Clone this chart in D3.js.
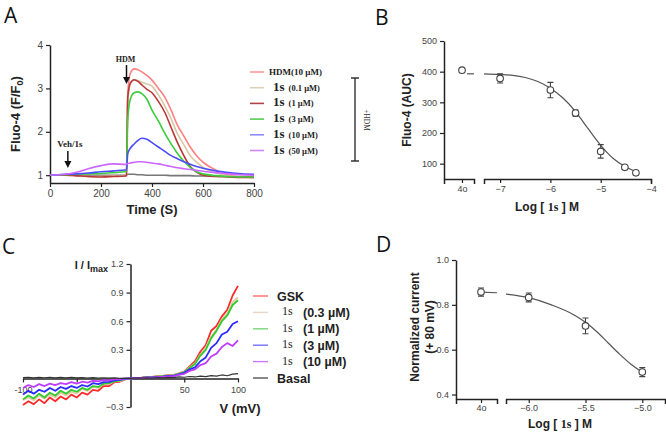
<!DOCTYPE html>
<html><head><meta charset="utf-8">
<script src="https://cdn.jsdelivr.net/npm/d3@7"></script>
<style>
body{margin:0;background:#fff}
svg{display:block}
text{font-family:"Liberation Sans",Arial,sans-serif}
.serif{font-family:"Liberation Serif","Times New Roman",serif}
</style></head><body>
<svg id="c" width="666" height="435"></svg>
<script>
// ---------- Panel A data ----------
const timesA = [0,60,100,150,200,250,295,300,305,315,330,345,360,380,400,425,450,475,500,525,550,575,600,650,700,750,800];
const vehA  = [1.0,1.0,1.0,1.0,1.0,1.0,1.0,1.0,1.02,1.02,1.02,1.01,1.01,1.0,1.0,1.0,1.0,0.99,0.99,0.99,0.99,0.98,0.98,0.98,0.97,0.97,0.97];
const hdmA  = [1.0,1.0,0.99,0.97,0.97,0.98,0.99,1.0,2.9,3.35,3.45,3.43,3.38,3.3,3.19,3.0,2.8,2.5,2.15,1.9,1.65,1.45,1.3,1.12,1.0,0.96,0.95];
const c01A  = [1.0,1.0,0.99,0.97,0.97,0.98,0.99,1.0,2.7,3.1,3.2,3.18,3.14,3.1,3.05,2.85,2.6,2.3,1.95,1.7,1.45,1.3,1.18,1.05,0.98,0.96,0.95];
const c1A   = [1.0,1.0,0.99,0.97,0.96,0.97,0.98,0.99,2.8,3.12,3.2,3.16,3.08,2.98,2.9,2.7,2.45,2.1,1.75,1.45,1.2,1.07,1.0,0.97,0.96,0.95,0.95];
const c3A   = [1.0,1.01,1.02,1.03,1.04,1.06,1.08,1.09,2.3,2.75,2.9,2.92,2.88,2.75,2.5,2.25,1.97,1.72,1.5,1.32,1.18,1.08,1.03,0.99,0.97,0.96,0.96];
const c10A  = [1.0,1.02,1.03,1.05,1.08,1.1,1.12,1.12,1.5,1.62,1.72,1.8,1.85,1.83,1.75,1.65,1.55,1.45,1.38,1.31,1.25,1.2,1.16,1.1,1.06,1.03,1.02];
const c50A  = [1.0,1.02,1.06,1.15,1.22,1.26,1.25,1.25,1.27,1.28,1.3,1.31,1.31,1.3,1.28,1.26,1.23,1.2,1.17,1.15,1.13,1.11,1.09,1.06,1.03,1.01,1.0];
const colorsA = ["#777","#ff8080","#d9c7a5","#b83838","#3ccc3c","#4c4cff","#cc66ff"];
const legendA = [["HDM(10 µM)",""],["1s","(0.1 µM)"],["1s","(1 µM)"],["1s","(3 µM)"],["1s","(10 µM)"],["1s","(50 µM)"]];
const legendAcolors = ["#ff9a9a","#dcd2b4","#b04444","#55cc55","#8c8cff","#cc88ff"];
const ticksAx = [0,200,400,600,800];
const ticksAy = [1,2,3,4];

// ---------- Panel B data ----------
const logB = [-7,-6,-5.5,-5,-4.52,-4.3];
const aucB = [378,340,265,140,88,70];
const errB = [15,25,10,22,6,4];
const ctrlB = 405, ctrlErrB = 4;
const curveBx = [-7.32,-7,-6.75,-6.5,-6.25,-6,-5.75,-5.5,-5.25,-5,-4.75,-4.5,-4.3];
const curveBy = [393,391,388,381,368,346,314,270,214,160,117,89,74];
const ticksBx = [-7,-6,-5,-4];
const ticksBy = [100,200,300,400,500];

// ---------- Panel C data ----------
const voltC = d3.range(-100,101,5);
const gskC  = [-0.28,-0.24,-0.27,-0.22,-0.26,-0.2,-0.24,-0.19,-0.22,-0.17,-0.2,-0.15,-0.17,-0.12,-0.13,-0.08,-0.08,-0.04,-0.035,-0.01,0,0.006,0.008,0.014,0.016,0.024,0.026,0.033,0.034,0.052,0.072,0.125,0.18,0.28,0.35,0.5,0.55,0.65,0.72,0.87,0.97];
const c03C  = [-0.23,-0.2,-0.23,-0.18,-0.21,-0.17,-0.2,-0.15,-0.18,-0.14,-0.16,-0.11,-0.13,-0.09,-0.1,-0.06,-0.06,-0.03,-0.028,-0.01,0,0.005,0.007,0.012,0.014,0.021,0.024,0.031,0.032,0.049,0.068,0.115,0.16,0.25,0.32,0.44,0.51,0.62,0.68,0.8,0.85];
const c1C   = [-0.22,-0.18,-0.21,-0.16,-0.2,-0.15,-0.18,-0.13,-0.16,-0.12,-0.14,-0.1,-0.12,-0.08,-0.09,-0.055,-0.05,-0.03,-0.022,-0.008,0,0.005,0.006,0.011,0.013,0.019,0.023,0.029,0.031,0.047,0.065,0.11,0.15,0.24,0.3,0.42,0.5,0.6,0.66,0.77,0.82];
const c3C   = [-0.17,-0.13,-0.16,-0.12,-0.14,-0.1,-0.13,-0.09,-0.11,-0.08,-0.1,-0.07,-0.085,-0.05,-0.06,-0.04,-0.036,-0.02,-0.016,-0.005,0,0.004,0.005,0.01,0.011,0.016,0.019,0.025,0.027,0.042,0.058,0.095,0.115,0.18,0.22,0.32,0.37,0.46,0.49,0.57,0.6];
const c10C  = [-0.1,-0.07,-0.09,-0.06,-0.08,-0.055,-0.07,-0.05,-0.06,-0.04,-0.055,-0.035,-0.045,-0.025,-0.03,-0.018,-0.02,-0.01,-0.008,-0.003,0,0.003,0.004,0.007,0.009,0.012,0.016,0.02,0.023,0.036,0.048,0.078,0.095,0.14,0.16,0.23,0.26,0.33,0.37,0.34,0.4];
const basC  = [0.008,0.012,0.006,0.011,0.007,0.012,0.006,0.01,0.006,0.01,0.005,0.009,0.004,0.008,0.004,0.006,0.002,0.005,0.001,0.003,0,0.004,0.002,0.006,0.003,0.008,0.005,0.011,0.008,0.015,0.012,0.02,0.015,0.024,0.018,0.03,0.024,0.036,0.028,0.045,0.05];
const colorsC = ["#ff2a2a","#e6c9a2","#2ecc2e","#2b2bff","#c03cff","#333"];
const legendC = [["GSK",""],["1s","(0.3 µM)"],["1s","(1 µM)"],["1s","(3 µM)"],["1s","(10 µM)"],["Basal",""]];
const legendCcolors = ["#ff6a6a","#e4d6c0","#7ad67a","#7070ff","#cc77ff","#555"];
const ticksCy = [-0.3,0.3,0.6,0.9,1.2];
const ticksCx = [-100,-50,50,100];

// ---------- Panel D data ----------
const logD = [-6.0,-5.5,-5.0];
const curD = [0.833,0.706,0.50];
const errD = [0.02,0.035,0.02];
const ctrlD = 0.857, ctrlErrD = 0.018;
const curveDx = [-6.2,-6.0,-5.8,-5.6,-5.5,-5.4,-5.3,-5.2,-5.1,-5.0];
const curveDy = [0.848,0.832,0.80,0.755,0.722,0.68,0.63,0.58,0.535,0.50];
const ticksDx = [-6.0,-5.5,-5.0];
const ticksDy = [0.4,0.6,0.8,1.0];

const svg = d3.select("#c");
svg.append("rect").attr("width",666).attr("height",435).attr("fill","#fff");

function styleAxis(g, fs){
  g.selectAll(".domain").attr("stroke","#222").attr("stroke-width",1.5);
  g.selectAll(".tick line").attr("stroke","#222").attr("stroke-width",1.2);
  g.selectAll(".tick text").attr("font-size",fs).attr("fill","#444");
}
function letter(t,x,y){
  svg.append("text").attr("x",x).attr("y",y).attr("font-size",21)
    .style("font-family","'Open Sans','Noto Sans',sans-serif").attr("fill","#111").text(t);
}

// ================= Panel A =================
{
  const x = d3.scaleLinear([0,800],[50,254]);
  const y = d3.scaleLinear([0.82,4],[183,45]);
  const g = svg.append("g");
  const gx = g.append("g").attr("transform","translate(0,183)")
    .call(d3.axisBottom(x).tickValues(ticksAx).tickSize(4).tickSizeOuter(0));
  styleAxis(gx,10);
  const gy = g.append("g").attr("transform","translate(50,0)")
    .call(d3.axisLeft(y).tickValues(ticksAy).tickFormat(d3.format("d")).tickSize(4).tickSizeOuter(0));
  styleAxis(gy,10);
  const all = [vehA,hdmA,c01A,c1A,c3A,c10A,c50A];
  const line = d3.line().x((d,i)=>x(timesA[i])).y(d=>y(d)).curve(d3.curveMonotoneX);
  all.forEach((s,k)=>{
    g.append("path").attr("d",line(s)).attr("fill","none")
      .attr("stroke",colorsA[k]).attr("stroke-width",1.6);
  });
  svg.append("text").attr("transform","translate(20,114) rotate(-90)")
    .attr("text-anchor","middle").attr("font-size",13).attr("font-weight","bold").attr("fill","#222")
    .html('Fluo-4 (F/F<tspan font-size="9" dy="3">0</tspan><tspan dy="-3">)</tspan>');
  svg.append("text").attr("x",152).attr("y",214).attr("text-anchor","middle")
    .attr("font-size",13).attr("font-weight","bold").attr("fill","#222").text("Time (S)");
  function arrow(xp,y1,y2){
    g.append("line").attr("x1",xp).attr("x2",xp).attr("y1",y1).attr("y2",y2-5).attr("stroke","#111").attr("stroke-width",1.5);
    g.append("path").attr("d",`M${xp-3.5},${y2-7}L${xp+3.5},${y2-7}L${xp},${y2}Z`).attr("fill","#111");
  }
  arrow(x(70),151,168);
  arrow(x(300),65,84);
  g.append("text").attr("class","serif").attr("x",x(70)+2).attr("y",147).attr("text-anchor","middle")
    .attr("font-size",9).attr("font-weight","bold").attr("fill","#222").text("Veh/1s");
  g.append("text").attr("class","serif").attr("x",x(300)-1).attr("y",62).attr("text-anchor","middle")
    .attr("font-size",8).attr("font-weight","bold").attr("fill","#222").text("HDM");
  legendA.forEach((l,i)=>{
    const yy = 72 + i*15.7;
    g.append("line").attr("x1",250).attr("x2",264).attr("y1",yy).attr("y2",yy)
      .attr("stroke",legendAcolors[i]).attr("stroke-width",1.6);
    const t = g.append("text").attr("class","serif").attr("y",yy+3).attr("font-weight","bold").attr("fill","#222");
    if(l[1]===""){
      t.attr("x",269).attr("font-size",9).text(l[0]);
    } else {
      t.attr("x",273);
      t.append("tspan").attr("font-size",13).text(l[0]);
      t.append("tspan").attr("font-size",8.5).attr("dx",4).text(l[1]);
    }
  });
  g.append("path").attr("d","M351,78H359M355,78V161M351,161H359").attr("stroke","#333").attr("stroke-width",1.4).attr("fill","none");
  g.append("text").attr("class","serif").attr("transform","translate(364,120) rotate(90)")
    .attr("text-anchor","middle").attr("font-size",7.5).attr("fill","#333").text("+HDM");
  letter("A",4,23);
}

// ================= Panel B =================
{
  const y = d3.scaleLinear([50,500],[179,41]);
  const x0 = d3.scalePoint(["4o"],[444,474]).align(0.6);
  const x = d3.scaleLinear([-7.32,-4],[484,651]);
  const g = svg.append("g");
  const gy = g.append("g").attr("transform","translate(444,0)")
    .call(d3.axisLeft(y).tickValues(ticksBy).tickSize(4).tickSizeOuter(0));
  styleAxis(gy,9);
  const gx0 = g.append("g").attr("transform","translate(0,179)")
    .call(d3.axisBottom(x0).tickSize(4).tickSizeOuter(5));
  styleAxis(gx0,9);
  const gx = g.append("g").attr("transform","translate(0,179)")
    .call(d3.axisBottom(x).tickValues(ticksBx).tickFormat(d3.format("d")).tickSize(4).tickSizeOuter(5));
  styleAxis(gx,9);
  const line = d3.line().x((d,i)=>x(curveBx[i])).y(d=>y(d)).curve(d3.curveMonotoneX);
  g.append("path").attr("d",line(curveBy)).attr("fill","none").attr("stroke","#555").attr("stroke-width",1.2);
  g.append("line").attr("x1",x0("4o")+5).attr("x2",474).attr("y1",y(curveBy[0])).attr("y2",y(curveBy[0])).attr("stroke","#555").attr("stroke-width",1.2);
  const pts = logB.map((v,i)=>({x:x(v),v:aucB[i],e:errB[i]}));
  pts.push({x:x0("4o"),v:ctrlB,e:ctrlErrB});
  pts.forEach(p=>{
    g.append("path").attr("d",`M${p.x},${y(p.v+p.e)}V${y(p.v-p.e)}M${p.x-3},${y(p.v+p.e)}H${p.x+3}M${p.x-3},${y(p.v-p.e)}H${p.x+3}`)
      .attr("stroke","#444").attr("stroke-width",1.1).attr("fill","none");
    g.append("circle").attr("cx",p.x).attr("cy",y(p.v)).attr("r",3.3).attr("fill","#fff").attr("stroke","#444").attr("stroke-width",1.1);
  });
  svg.append("text").attr("transform","translate(411,110) rotate(-90)").attr("text-anchor","middle")
    .attr("font-size",12).attr("font-weight","bold").attr("fill","#222").text("Fluo-4 (AUC)");
  const t = svg.append("text").attr("x",547).attr("y",211).attr("text-anchor","middle")
    .attr("font-size",12).attr("font-weight","bold").attr("fill","#222");
  t.append("tspan").text("Log [ ");
  t.append("tspan").attr("class","serif").attr("font-size",12).text("1s");
  t.append("tspan").text(" ] M");
  letter("B",375,25);
}

// ================= Panel C =================
{
  const x = d3.scaleLinear([-100,100],[23,238]);
  const y = d3.scaleLinear([-0.3,1.2],[407,264]);
  const g = svg.append("g");
  const gy = g.append("g").attr("transform",`translate(${x(0)},0)`)
    .call(d3.axisLeft(y).tickValues(ticksCy).tickFormat(d3.format(".1f")).tickSize(4).tickSizeOuter(0));
  styleAxis(gy,9);
  const gx = g.append("g").attr("transform",`translate(0,${y(0)})`)
    .call(d3.axisBottom(x).tickValues(ticksCx).tickFormat(d=>d===-50?"":d).tickSize(4).tickSizeOuter(0));
  styleAxis(gx,9);
  gx.selectAll(".tick text").attr("dy","0.9em");
  const all = [gskC,c03C,c1C,c3C,c10C,basC];
  const line = d3.line().x((d,i)=>x(voltC[i])).y(d=>y(d));
  all.forEach((s,k)=>{
    g.append("path").attr("d",line(s)).attr("fill","none").attr("stroke",colorsC[k])
      .attr("stroke-width",k===5?1.2:1.8).attr("stroke-linejoin","round");
  });
  svg.append("text").attr("x",108).attr("y",269).attr("text-anchor","end")
    .attr("font-size",11).attr("font-weight","bold").attr("fill","#222")
    .html('I / I<tspan font-size="9" dy="3">max</tspan>');
  svg.append("text").attr("x",240).attr("y",413).attr("text-anchor","middle")
    .attr("font-size",13).attr("font-weight","bold").attr("fill","#222").text("V (mV)");
  legendC.forEach((l,i)=>{
    const yy = 296 + i*16.4;
    g.append("line").attr("x1",253).attr("x2",268).attr("y1",yy).attr("y2",yy)
      .attr("stroke",legendCcolors[i]).attr("stroke-width",1.4);
    if(l[1]===""){
      g.append("text").attr("x",277).attr("y",yy+4.5).attr("font-size",12.5).attr("font-weight","bold").attr("fill","#222").text(l[0]);
    } else {
      g.append("text").attr("class","serif").attr("x",282).attr("y",yy+3).attr("font-size",12).attr("fill","#222").text(l[0]);
      g.append("text").attr("x",303).attr("y",yy+4.5).attr("font-size",12.5).attr("font-weight","bold").attr("fill","#222").text(l[1]);
    }
  });
  letter("C",2,254);
}

// ================= Panel D =================
{
  const y = d3.scaleLinear([0.38,1.0],[399,260]);
  const x0 = d3.scalePoint(["4o"],[456,497]).align(0.61);
  const x = d3.scaleLinear([-6.2,-4.8],[506,665]);
  const g = svg.append("g");
  const gy = g.append("g").attr("transform","translate(456,0)")
    .call(d3.axisLeft(y).tickValues(ticksDy).tickFormat(d3.format(".1f")).tickSize(4).tickSizeOuter(0));
  styleAxis(gy,9);
  const gx0 = g.append("g").attr("transform","translate(0,399)")
    .call(d3.axisBottom(x0).tickSize(4).tickSizeOuter(5).tickPadding(2));
  styleAxis(gx0,9);
  const gx = g.append("g").attr("transform","translate(0,399)")
    .call(d3.axisBottom(x).tickValues(ticksDx).tickFormat(d3.format(".1f")).tickSize(4).tickSizeOuter(5).tickPadding(2));
  styleAxis(gx,9);
  const line = d3.line().x((d,i)=>x(curveDx[i])).y(d=>y(d)).curve(d3.curveMonotoneX);
  g.append("path").attr("d",line(curveDy)).attr("fill","none").attr("stroke","#555").attr("stroke-width",1.2);
  g.append("line").attr("x1",x0("4o")).attr("x2",497).attr("y1",y(ctrlD)).attr("y2",y(ctrlD-0.003)).attr("stroke","#555").attr("stroke-width",1.2);
  const pts = logD.map((v,i)=>({x:x(v),v:curD[i],e:errD[i]}));
  pts.push({x:x0("4o"),v:ctrlD,e:ctrlErrD});
  pts.forEach(p=>{
    g.append("path").attr("d",`M${p.x},${y(p.v+p.e)}V${y(p.v-p.e)}M${p.x-3},${y(p.v+p.e)}H${p.x+3}M${p.x-3},${y(p.v-p.e)}H${p.x+3}`)
      .attr("stroke","#444").attr("stroke-width",1.1).attr("fill","none");
    g.append("circle").attr("cx",p.x).attr("cy",y(p.v)).attr("r",3.3).attr("fill","#fff").attr("stroke","#444").attr("stroke-width",1.1);
  });
  svg.append("text").attr("transform","translate(419,327) rotate(-90)").attr("text-anchor","middle")
    .attr("font-size",12).attr("font-weight","bold").attr("fill","#222").text("Normalized current");
  svg.append("text").attr("transform","translate(434,327) rotate(-90)").attr("text-anchor","middle")
    .attr("font-size",12).attr("font-weight","bold").attr("fill","#222").text("(+ 80 mV)");
  const t = svg.append("text").attr("x",560).attr("y",428).attr("text-anchor","middle")
    .attr("font-size",12).attr("font-weight","bold").attr("fill","#222");
  t.append("tspan").text("Log [ ");
  t.append("tspan").attr("class","serif").attr("font-size",12).text("1s");
  t.append("tspan").text(" ] M");
  letter("D",376,252);
}
</script>
</body></html>
